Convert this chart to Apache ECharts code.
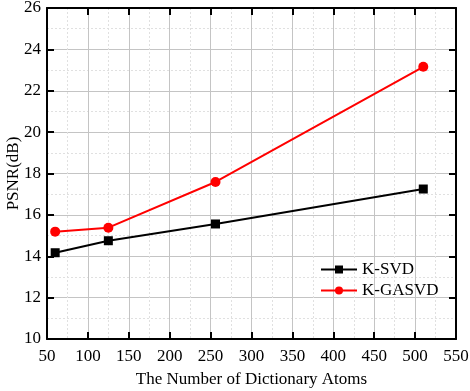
<!DOCTYPE html>
<html><head><meta charset="utf-8">
<script src="https://cdn.jsdelivr.net/npm/echarts@6/dist/echarts.min.js"></script>
<style>html,body{margin:0;padding:0;background:#fff}#c{width:470px;height:391px}</style>
</head><body><div id="c"></div>
<script>
const atoms = [60, 125, 256, 510];
const ksvd = [14.17, 14.75, 15.56, 17.25];
const kgasvd = [15.19, 15.38, 17.59, 23.16];
const xTicks = {min: 50, max: 550, interval: 50};
const yTicks = {min: 10, max: 26, interval: 2};
const font = 'Liberation Serif';
const chart = echarts.init(document.getElementById('c'));
const frameAxis = {
  z: 5,
  axisLine: {show: true, onZero: false, lineStyle: {color: '#000', width: 2}},
  axisTick: {show: true, inside: true, length: 7, lineStyle: {color: '#000', width: 2}},
  minorTick: {show: false},
  splitLine: {show: false},
  minorSplitLine: {show: false}
};
const gridAxis = {
  z: 0,
  axisLine: {show: false},
  axisTick: {show: false},
  axisLabel: {show: false},
  minorTick: {show: false, splitNumber: 2},
  splitLine: {show: true, lineStyle: {color: '#c4c4c4', width: 1}},
  minorSplitLine: {show: true, lineStyle: {color: '#e0e0e0', width: 1, type: [2, 2]}}
};
chart.setOption({
  animation: false,
  textStyle: {fontFamily: font},
  grid: {left: 47, right: 14, top: 8, bottom: 52, outerBoundsMode: 'none', containLabel: false},
  legend: {
    left: 315, top: 256, orient: 'vertical', itemGap: 4, itemWidth: 36, itemHeight: 10,
    textStyle: {fontFamily: font, fontSize: 17, color: '#000'},
    data: ['K-SVD', 'K-GASVD']
  },
  xAxis: [
    Object.assign({}, gridAxis, {type: 'value', position: 'bottom', offset: 0, min: xTicks.min, max: xTicks.max, interval: xTicks.interval}),
    Object.assign({}, frameAxis, {type: 'value', position: 'bottom', offset: 0, min: xTicks.min, max: xTicks.max, interval: xTicks.interval,
      name: 'The Number of Dictionary Atoms', nameLocation: 'middle', nameGap: 32, nameMoveOverlap: false,
      nameTextStyle: {fontFamily: font, fontSize: 17, color: '#000'},
      axisLabel: {fontFamily: font, fontSize: 17, color: '#000', margin: 9}}),
    Object.assign({}, frameAxis, {type: 'value', position: 'top', offset: 0, min: xTicks.min, max: xTicks.max, interval: xTicks.interval,
      axisLabel: {show: true, color: 'rgba(0,0,0,0)', fontSize: 1}})
  ],
  yAxis: [
    Object.assign({}, gridAxis, {type: 'value', position: 'left', offset: 0, min: yTicks.min, max: yTicks.max, interval: yTicks.interval}),
    Object.assign({}, frameAxis, {type: 'value', position: 'left', offset: 0, min: yTicks.min, max: yTicks.max, interval: yTicks.interval,
      name: 'PSNR(dB)', nameLocation: 'middle', nameGap: 25, nameRotate: 90, nameMoveOverlap: false,
      nameTextStyle: {fontFamily: font, fontSize: 17, color: '#000'},
      axisLabel: {fontFamily: font, fontSize: 17, color: '#000', margin: 6}}),
    Object.assign({}, frameAxis, {type: 'value', position: 'right', offset: 0, min: yTicks.min, max: yTicks.max, interval: yTicks.interval,
      axisLabel: {show: true, color: 'rgba(0,0,0,0)', fontSize: 1}})
  ],
  series: [
    {name: 'K-SVD', type: 'line', z: 6, xAxisIndex: 1, yAxisIndex: 1, data: atoms.map((x, i) => [x, ksvd[i]]),
      symbol: 'rect', symbolSize: 9, itemStyle: {color: '#000'}, lineStyle: {color: '#000', width: 2}},
    {name: 'K-GASVD', type: 'line', z: 6, xAxisIndex: 1, yAxisIndex: 1, data: atoms.map((x, i) => [x, kgasvd[i]]),
      symbol: 'circle', symbolSize: 10, itemStyle: {color: '#ff0000'}, lineStyle: {color: '#ff0000', width: 2}}
  ]
});
</script></body></html>
